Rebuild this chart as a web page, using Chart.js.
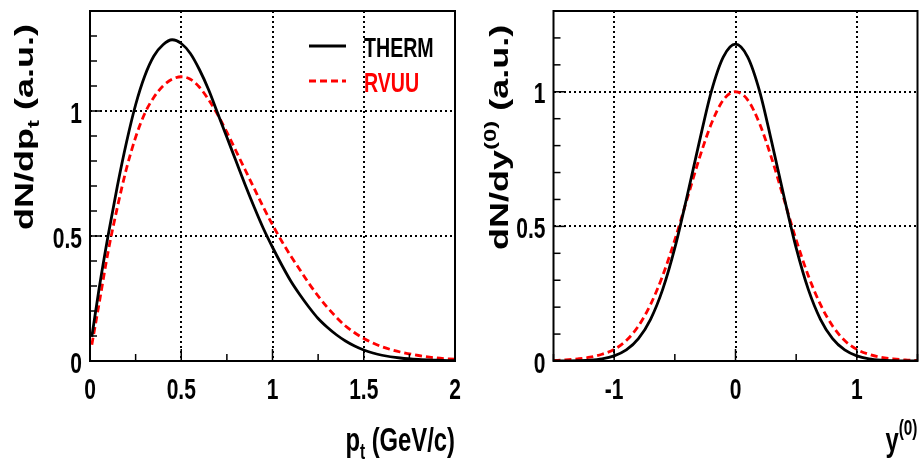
<!DOCTYPE html>
<html>
<head>
<meta charset="utf-8">
<script src="https://cdn.jsdelivr.net/npm/chart.js@4.4.1/dist/chart.umd.min.js"></script>
<style>
  html, body { margin: 0; padding: 0; background: #fff; }
  #wrap { position: relative; width: 919px; height: 462px; }
  #left { position: absolute; left: 0; top: 0; }
  #right { position: absolute; left: 470px; top: 0; }
</style>
</head>
<body>
<div id="wrap">
  <canvas id="left" width="470" height="462"></canvas>
  <canvas id="right" width="449" height="462"></canvas>
</div>
<script>
// transverse momentum spectra (left panel)
const ptValues = [0.01, 0.05, 0.1, 0.15, 0.2, 0.25, 0.3, 0.35, 0.4, 0.45, 0.5, 0.55, 0.6, 0.65, 0.7, 0.75,
  0.8, 0.85, 0.9, 0.95, 1.0, 1.05, 1.1, 1.15, 1.2, 1.25, 1.3, 1.35, 1.4, 1.45, 1.5, 1.55, 1.6, 1.7, 1.8, 1.9, 2.0];
const thermPt = [0.097, 0.29, 0.505, 0.70, 0.875, 1.025, 1.14, 1.22, 1.265, 1.285, 1.27, 1.23, 1.165, 1.085, 0.99, 0.895,
  0.80, 0.705, 0.615, 0.53, 0.455, 0.385, 0.32, 0.265, 0.215, 0.17, 0.135, 0.105, 0.08, 0.06, 0.044, 0.032, 0.023, 0.012, 0.006, 0.003, 0.001];
const rvuuPt = [0.065, 0.23, 0.44, 0.615, 0.77, 0.895, 0.99, 1.055, 1.10, 1.127, 1.137, 1.127, 1.095, 1.045, 0.985, 0.915,
  0.84, 0.765, 0.69, 0.615, 0.545, 0.48, 0.42, 0.365, 0.31, 0.26, 0.215, 0.175, 0.14, 0.113, 0.09, 0.072, 0.057, 0.036, 0.022, 0.012, 0.007];

// rapidity spectra (right panel)
const rapValues = [-1.5, -1.4, -1.3, -1.2, -1.1, -1.0, -0.9, -0.8, -0.7, -0.6, -0.5, -0.4, -0.3, -0.2, -0.1, 0,
  0.1, 0.2, 0.3, 0.4, 0.5, 0.6, 0.7, 0.8, 0.9, 1.0, 1.1, 1.2, 1.3, 1.4, 1.5];
const thermRap = [0, 0, 0.001, 0.003, 0.008, 0.019, 0.041, 0.083, 0.155, 0.266, 0.42, 0.61, 0.81, 1.0, 1.13, 1.177,
  1.13, 1.0, 0.81, 0.61, 0.42, 0.266, 0.155, 0.083, 0.041, 0.019, 0.008, 0.003, 0.001, 0, 0];
const rvuuRap = [0.002, 0.004, 0.008, 0.014, 0.025, 0.043, 0.076, 0.13, 0.21, 0.317, 0.45, 0.60, 0.75, 0.88, 0.97, 1.0,
  0.97, 0.88, 0.75, 0.60, 0.45, 0.317, 0.21, 0.13, 0.076, 0.043, 0.025, 0.014, 0.008, 0.004, 0.002];

const seriesNames = ["THERM", "RVUU"];
const seriesColors = ["#000000", "#ff0000"];

const ptTicks = [0, 0.5, 1, 1.5, 2];
const ptTickLabels = ["0", "0.5", "1", "1.5", "2"];
const rapTicks = [-1, 0, 1];
const rapTickLabels = ["-1", "0", "1"];
const yTicks = [0, 0.5, 1];
const yTickLabels = ["0", "0.5", "1"];

const FONT = '"Liberation Sans", Arial, Helvetica, sans-serif';
const SQ = 0.7; // horizontal squeeze of the original figure

function drawRich(ctx, parts, x, y, opts) {
  const rot = opts.rot || 0;
  ctx.save();
  ctx.translate(x, y);
  if (rot) { ctx.rotate(rot); ctx.scale(1, SQ); } else { ctx.scale(SQ, 1); }
  ctx.textBaseline = "alphabetic";
  ctx.textAlign = "left";
  let total = 0;
  parts.forEach(p => { ctx.font = "bold " + p.s + "px " + FONT; total += ctx.measureText(p.t).width; });
  let cx = opts.align === "right" ? -total : opts.align === "center" ? -total / 2 : 0;
  parts.forEach(p => {
    ctx.font = "bold " + p.s + "px " + FONT;
    ctx.fillStyle = opts.color || "#000";
    ctx.fillText(p.t, cx, p.dy || 0);
    cx += ctx.measureText(p.t).width;
  });
  ctx.restore();
}

const decor = {
  id: "decor",
  afterDraw(chart, args, o) {
    const ctx = chart.ctx;
    const a = chart.chartArea;
    const xs = chart.scales.x, ys = chart.scales.y;
    ctx.save();
    ctx.strokeStyle = "#000";
    ctx.lineWidth = 1.5;
    ctx.setLineDash([]);
    // inward tick marks
    for (let k = Math.ceil(xs.min / o.xMinor - 1e-9); k * o.xMinor <= xs.max + 1e-9; k++) {
      const v = k * o.xMinor;
      const px = xs.getPixelForValue(v);
      const major = Math.abs(v / o.xMajor - Math.round(v / o.xMajor)) < 1e-6;
      const len = major ? 12 : 7;
      ctx.beginPath(); ctx.moveTo(px, a.bottom); ctx.lineTo(px, a.bottom - len); ctx.stroke();
    }
    for (let k = 0; k * 0.1 <= ys.max + 1e-9; k++) {
      const v = k * 0.1;
      const py = ys.getPixelForValue(v);
      const len = k % 5 === 0 ? 12 : 7;
      ctx.beginPath(); ctx.moveTo(a.left, py); ctx.lineTo(a.left + len, py); ctx.stroke();
    }
    // frame
    ctx.lineWidth = 2;
    ctx.strokeRect(a.left, a.top, a.right - a.left, a.bottom - a.top);
    ctx.restore();

    // tick labels
    o.xTicks.forEach((v, i) => {
      drawRich(ctx, [{ t: o.xLabels[i], s: 30 }], xs.getPixelForValue(v), 398.5, { align: "center" });
    });
    yTicks.forEach((v, i) => {
      drawRich(ctx, [{ t: yTickLabels[i], s: 30 }], a.left - 8, ys.getPixelForValue(v) + 11.5, { align: "right" });
    });

    // axis titles
    drawRich(ctx, o.xTitle, a.right, 451, { align: "right" });
    drawRich(ctx, o.yTitle, o.yTitleX, o.yTitleY, { rot: -Math.PI / 2 });

    // legend
    if (o.legend) {
      chart.data.datasets.forEach((ds, i) => {
        const ly = 46 + i * 35;
        ctx.save();
        ctx.strokeStyle = ds.borderColor;
        ctx.lineWidth = 3;
        ctx.setLineDash(ds.borderDash || []);
        ctx.beginPath(); ctx.moveTo(309, ly); ctx.lineTo(346, ly); ctx.stroke();
        ctx.restore();
        drawRich(ctx, [{ t: ds.label, s: 28 }], 364, ly + 11, { color: ds.borderColor });
      });
    }
  }
};

function makeChart(id, xv, s1, s2, cfg) {
  return new Chart(document.getElementById(id), {
    type: "line",
    data: {
      datasets: [
        {
          label: seriesNames[0],
          data: xv.map((x, i) => ({ x: x, y: s1[i] })),
          borderColor: seriesColors[0],
          borderWidth: 2.8,
          pointRadius: 0,
          cubicInterpolationMode: "monotone",
          fill: false,
        },
        {
          label: seriesNames[1],
          data: xv.map((x, i) => ({ x: x, y: s2[i] })),
          borderColor: seriesColors[1],
          borderWidth: 2.8,
          borderDash: [7, 4],
          pointRadius: 0,
          cubicInterpolationMode: "monotone",
          fill: false,
        },
      ],
    },
    plugins: [decor],
    options: {
      responsive: false,
      animation: false,
      layout: { padding: { left: 0, top: 11, right: cfg.padRight, bottom: 0 } },
      scales: {
        x: {
          type: "linear",
          min: cfg.xMin,
          max: cfg.xMax,
          afterFit: s => { s.height = 101; },
          afterBuildTicks: s => { s.ticks = cfg.xGrid.map(v => ({ value: v })); },
          ticks: { display: false },
          grid: { color: "#000", lineWidth: 2, drawTicks: false },
          border: { display: false, dash: [2, 3] },
        },
        y: {
          type: "linear",
          min: 0,
          max: cfg.yMax,
          afterFit: s => { s.width = cfg.yWidth; },
          afterBuildTicks: s => { s.ticks = [0.5, 1].map(v => ({ value: v })); },
          ticks: { display: false },
          grid: { color: "#000", lineWidth: 2, drawTicks: false },
          border: { display: false, dash: [2, 3] },
        },
      },
      plugins: {
        legend: { display: false },
        tooltip: { enabled: false },
        decor: cfg.decor,
      },
    },
  });
}

makeChart("left", ptValues, thermPt, rvuuPt, {
  xMin: 0, xMax: 2, yMax: 1.4, yWidth: 90, padRight: 15,
  xGrid: [0.5, 1, 1.5],
  decor: {
    xMinor: 0.25, xMajor: 0.5, xTicks: ptTicks, xLabels: ptTickLabels, legend: true,
    xTitle: [{ t: "p", s: 34 }, { t: "t", s: 22, dy: 8 }, { t: " (GeV/c)", s: 34 }],
    yTitle: [{ t: "dN/dp", s: 36 }, { t: "t", s: 24, dy: 9 }, { t: " (a.u.)", s: 36 }],
    yTitleX: 33, yTitleY: 230,
  },
});

makeChart("right", rapValues, thermRap, rvuuRap, {
  xMin: -1.5, xMax: 1.5, yMax: 1.30, yWidth: 83.5, padRight: 1.5,
  xGrid: [-1, 0, 1],
  decor: {
    xMinor: 0.5, xMajor: 1, xTicks: rapTicks, xLabels: rapTickLabels, legend: false,
    xTitle: [{ t: "y", s: 34 }, { t: "(0)", s: 22, dy: -16 }],
    yTitle: [{ t: "dN/dy", s: 36 }, { t: "(0)", s: 24, dy: -17 }, { t: " (a.u.)", s: 36 }],
    yTitleX: 38, yTitleY: 250,
  },
});
</script>
</body>
</html>
